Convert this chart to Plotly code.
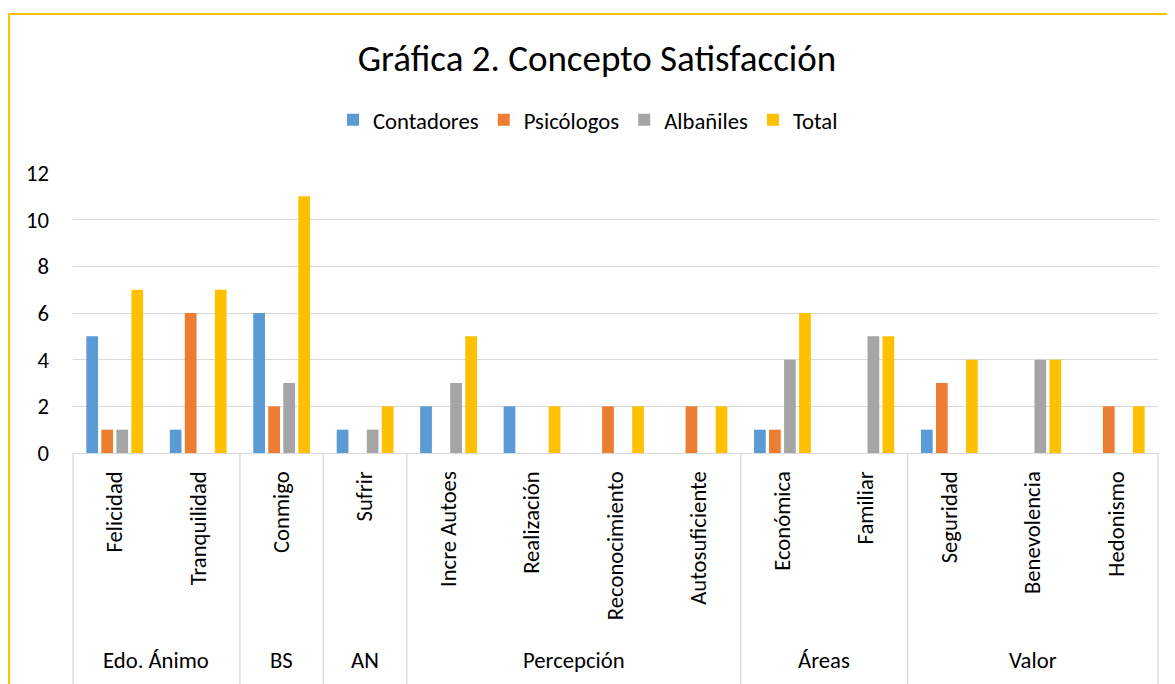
import plotly.graph_objects as go

categories = ["Felicidad", "Tranquilidad", "Conmigo", "Sufrir", "Incre Autoes",
              "Realización", "Reconocimiento", "Autosuficiente", "Económica",
              "Familiar", "Seguridad", "Benevolencia", "Hedonismo"]
groups = ["Edo. Ánimo", "BS", "AN", "Percepción", "Áreas", "Valor"]
group_sizes = [2, 1, 1, 4, 2, 3]

contadores = [5, 1, 6, 1, 2, 2, 0, 0, 1, 0, 1, 0, 0]
psicologos = [1, 6, 2, 0, 0, 0, 2, 2, 1, 0, 3, 0, 2]
albaniles = [1, 0, 3, 1, 3, 0, 0, 0, 4, 5, 0, 4, 0]
total = [7, 7, 11, 2, 5, 2, 2, 2, 6, 5, 4, 4, 2]

series_names = ["Contadores", "Psicólogos", "Albañiles", "Total"]
series_values = [contadores, psicologos, albaniles, total]
colors = ["#5B9BD5", "#ED7D31", "#A5A5A5", "#FFC000"]

FONT = "Calibri, Carlito, Lato, sans-serif"
FS = 22.7
# the page body adds an 8px offset; figure sized to fit the window
OFF = 8
W, H = 1175 - OFF, 684 - OFF
ML, MT = 73 - OFF, 173 - OFF
PW, PH = 1085, 280
MR, MB = W - ML - PW, H - MT - PH


def px_to_paper_x(px):
    return (px - OFF - ML) / PW


def px_to_paper_y(py):
    return (MT + PH - (py - OFF)) / PH


fig = go.Figure()
for name, vals, col in zip(series_names, series_values, colors):
    fig.add_trace(go.Bar(x=categories, y=vals, name=name,
                         marker=dict(color=col, line=dict(width=0))))

n = len(categories)
shapes = []
annotations = []
start = 0
bounds = [0]
for g, s in zip(groups, group_sizes):
    center = start + (s - 1) / 2
    annotations.append(dict(x=center, xref="x", y=px_to_paper_y(660),
                            yref="paper", text=g, showarrow=False,
                            font=dict(family=FONT, size=FS, color="#000000"),
                            xanchor="center", yanchor="middle"))
    start += s
    bounds.append(start)
for b in bounds:
    xp = b / n
    shapes.append(dict(type="line", xref="paper", yref="paper", x0=xp, x1=xp,
                       y0=0, y1=-1.0, line=dict(color="#D9D9D9", width=1.3)))

# outer chart border (gold)
shapes.append(dict(type="rect", xref="paper", yref="paper",
                   x0=px_to_paper_x(9), x1=1.2, y0=-1.2, y1=px_to_paper_y(14),
                   line=dict(color="#FFC000", width=2), layer="below"))

fig.update_layout(
    width=W, height=H,
    margin=dict(l=ML, r=MR, t=MT, b=MB, autoexpand=False),
    paper_bgcolor="white", plot_bgcolor="white",
    barmode="group", bargap=0.28, bargroupgap=0.22,
    title=dict(text="Gráfica 2. Concepto Satisfacción",
               x=(597 - OFF) / W, xref="container", xanchor="center",
               y=1 - (58 - OFF) / H, yref="container", yanchor="middle",
               font=dict(family=FONT, size=37, color="#000000")),
    legend=dict(orientation="h", xref="container", x=(588 - OFF) / W, xanchor="center",
                yref="container", y=1 - (120 - OFF) / H, yanchor="middle",
                font=dict(family=FONT, size=FS, color="#000000"),
                itemwidth=30, traceorder="normal"),
    font=dict(family=FONT, size=FS, color="#000000"),
    shapes=shapes, annotations=annotations,
    xaxis=dict(type="category", categoryorder="array", categoryarray=categories,
               tickangle=-90, showline=True, linecolor="#D9D9D9", linewidth=1.3,
               showgrid=False, ticks="", ticklabelstandoff=8,
               tickfont=dict(family=FONT, size=FS, color="#000000")),
    yaxis=dict(range=[0, 12], dtick=2, showgrid=True, gridcolor="#D9D9D9",
               gridwidth=1.3, zeroline=False, showline=False, ticks="",
               ticklabelstandoff=23,
               tickfont=dict(family=FONT, size=FS, color="#000000")),
    showlegend=True,
)

fig.write_html("out.html")
